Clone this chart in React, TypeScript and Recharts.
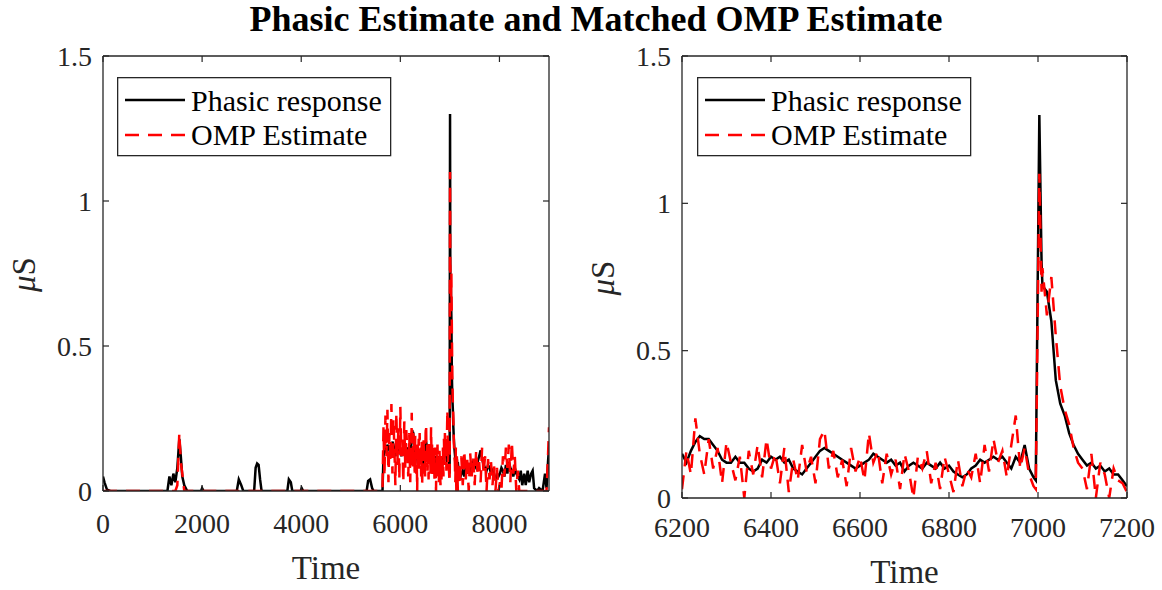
import { Legend, Line, LineChart, XAxis, YAxis } from "recharts";

const FONT = "'Liberation Serif', 'Times New Roman', Times, serif";
const AXIS_COLOR = "#262626";

// sample times (Time units)
const timeSec = [
  // quiet stretch with a few small responses
  0, 30, 80, 150, 1300, 1340, 1380, 1420, 1460, 1500, 1540, 1570, 1600, 1640,
  1700, 1980, 2000, 2030, 2700, 2740, 2790, 2830, 3050, 3080, 3110, 3140, 3170,
  3200, 3720, 3750, 3790, 3820, 3990, 4010, 4040, 5320, 5350, 5390, 5430, 5460,
  5640,
  // onset of the active period
  5660, 5680, 5700, 5720, 5740, 5760, 5780, 5800, 5820, 5840, 5860, 5880, 5900,
  5920, 5940, 5960, 5980, 6000, 6020, 6040, 6060, 6080, 6100, 6120, 6140, 6160,
  6180,
  // zoomed window 6200-7200
  6200, 6210, 6220, 6230, 6240, 6250, 6260, 6270, 6280, 6290, 6300, 6310, 6320,
  6330, 6340, 6350, 6360, 6370, 6380, 6390, 6400, 6410, 6420, 6430, 6440, 6450,
  6460, 6470, 6480, 6490, 6500, 6510, 6520, 6530, 6540, 6550, 6560, 6570, 6580,
  6590, 6600, 6610, 6620, 6630, 6640, 6650, 6660, 6670, 6680, 6690, 6700, 6710,
  6720, 6730, 6740, 6750, 6760, 6770, 6780, 6790, 6800, 6810, 6820, 6830, 6840,
  6850, 6860, 6870, 6880, 6890, 6900, 6910, 6920, 6930, 6940, 6950, 6960, 6970,
  6980, 6990, 6995, 7003, 7008, 7010, 7020, 7030, 7040, 7050, 7060, 7070, 7080,
  7090, 7100, 7110, 7120, 7130, 7140, 7150, 7160, 7170, 7180, 7190, 7200,
  // tail
  7230, 7260, 7290, 7320, 7350, 7380, 7410, 7440, 7470, 7500, 7530, 7560, 7590,
  7620, 7650, 7680, 7710, 7740, 7770, 7800, 7830, 7860, 7890, 7920, 7950, 7980,
  8010, 8040, 8070, 8100, 8130, 8160, 8190, 8220, 8250, 8280, 8310, 8340, 8370,
  8400, 8430, 8460, 8500, 8530, 8570, 8600, 8640, 8670, 8700, 8760, 8800, 8870,
  8920, 8950, 8980, 9000,
];

// phasic skin conductance response (µS)
const phasicResponse = [
  0.05, 0.03, 0.005, 0, 0, 0.05, 0.02, 0.06, 0.03, 0.08, 0.18, 0.12, 0.05, 0.02,
  0, 0, 0.01, 0, 0, 0.04, 0.02, 0, 0, 0.08, 0.095, 0.09, 0.04,
  0, 0, 0.04, 0.03, 0, 0, 0.01, 0, 0, 0.035, 0.04, 0.01, 0,
  0,
  0.12, 0.14, 0.15, 0.13, 0.16, 0.15, 0.14, 0.13, 0.15, 0.17, 0.16, 0.14, 0.12,
  0.13, 0.15, 0.16, 0.14, 0.13, 0.12, 0.14, 0.15, 0.13, 0.12, 0.14, 0.15, 0.13,
  0.14,
  0.15, 0.12, 0.16, 0.19, 0.21, 0.2, 0.2, 0.18, 0.16, 0.13, 0.12, 0.12, 0.14,
  0.12, 0.12, 0.1, 0.09, 0.1, 0.13, 0.12, 0.14, 0.13, 0.14, 0.12, 0.13, 0.1,
  0.09, 0.08, 0.1, 0.12, 0.14, 0.16, 0.17, 0.16, 0.15, 0.14, 0.13, 0.12, 0.11,
  0.1, 0.11, 0.12, 0.13, 0.15, 0.14, 0.13, 0.12, 0.13, 0.11, 0.12, 0.09, 0.11,
  0.12, 0.11, 0.1, 0.12, 0.11, 0.1, 0.12, 0.1, 0.11, 0.09, 0.08, 0.07, 0.08,
  0.1, 0.11, 0.13, 0.12, 0.13, 0.14, 0.13, 0.14, 0.12, 0.1, 0.14, 0.12, 0.18,
  0.1, 0.07, 0.06, 1.3, 0.8, 0.72, 0.7, 0.6, 0.4, 0.32, 0.28, 0.22, 0.18,
  0.15, 0.13, 0.11, 0.12, 0.1, 0.11, 0.09, 0.1, 0.08, 0.08, 0.06, 0.04,
  0.06, 0.07, 0.05, 0.08, 0.06, 0.09, 0.07, 0.08, 0.1, 0.09, 0.08, 0.1, 0.12,
  0.14, 0.11, 0.09, 0.08, 0.07, 0.09, 0.08, 0.06, 0.07, 0.05, 0.04, 0.06, 0.05,
  0.06, 0.08, 0.07, 0.05, 0.09, 0.06, 0.1, 0.08, 0.07, 0.05, 0.08, 0.06, 0.05,
  0.04, 0.07, 0.02, 0.06, 0.02, 0.07, 0.03, 0.06, 0.07, 0.01, 0, 0.01, 0,
  0.06, 0.01, 0.1, 0.15,
];

// matched OMP reconstruction (µS)
const ompEstimate = [
  0, 0, 0, 0, 0, 0, 0, 0, 0, 0.02, 0.2, 0.1, 0.06, 0,
  0, 0, 0, 0, 0, 0, 0, 0, 0, 0, 0, 0, 0,
  0, 0, 0, 0, 0, 0, 0, 0, 0, 0, 0, 0, 0,
  0,
  0.22, 0.05, 0.26, 0.12, 0.28, 0.03, 0.2, 0.1, 0.3, 0.06, 0.25, 0.15, 0.02,
  0.27, 0.09, 0.22, 0.04, 0.29, 0.12, 0.18, 0.03, 0.24, 0.08, 0.21, 0.14, 0.05,
  0.2,
  0.03, 0.16, 0.08, 0.27, 0.15, 0.08, 0.2, 0.1, 0.17, 0.05, 0.19, 0.12, 0.06,
  0.14, 0.0, 0.16, 0.08, 0.18, 0.07, 0.2, 0.1, 0.15, 0.05, 0.17, 0.02, 0.13,
  0.06, 0.18, 0.09, 0.14, 0.05, 0.2, 0.23, 0.1, 0.16, 0.07, 0.13, 0.04, 0.17,
  0.09, 0.14, 0.06, 0.22, 0.12, 0.16, 0.05, 0.15, 0.08, 0.13, 0.03, 0.15, 0.09,
  0.0, 0.14, 0.1, 0.16, 0.05, 0.12, 0.03, 0.14, 0.08, 0.02, 0.13, 0.04, 0.1,
  0.07, 0.15, 0.05, 0.18, 0.09, 0.2, 0.12, 0.16, 0.07, 0.18, 0.28, 0.1, 0.17,
  0.08, 0.04, 0.03, 1.1, 0.7, 0.78, 0.62, 0.75, 0.55, 0.38, 0.3, 0.25, 0.17,
  0.12, 0.1, 0.03, 0.15, 0.0, 0.12, 0.08, 0.0, 0.1, 0.06, 0.05, 0.02,
  0.12, 0.02, 0.14, 0.04, 0.11, 0.0, 0.13, 0.05, 0.12, 0.02, 0.14, 0.06, 0.1,
  0.03, 0.15, 0.06, 0.12, 0.0, 0.11, 0.04, 0.1, 0.02, 0.09, 0.0, 0.08, 0.0,
  0.03, 0.0, 0.12, 0.05, 0.15, 0.08, 0.16, 0.03, 0.17, 0.06, 0.12, 0.0, 0.07,
  0.0, 0, 0, 0, 0, 0, 0, 0, 0, 0, 0, 0, 0,
  0, 0, 0.12, 0.22,
];

const fullTicks = [0, 2000, 4000, 6000, 8000];
const zoomTicks = [6200, 6400, 6600, 6800, 7000, 7200];
const valueTicks = [0, 0.5, 1, 1.5];

const legendNames = ["Phasic response", "OMP Estimate"];
const legendColors = ["#000000", "#ff0000"];
const legendDashes = ["none", "14 9"];

const rows = timeSec.map((t, i) => ({
  time: t,
  phasic: phasicResponse[i],
  omp: ompEstimate[i],
}));
const zoomRows = rows.filter((r) => r.time >= 6200 && r.time <= 7200);

const TICK_LEN = 6;

// MATLAB-style tick: short mark pointing into the plot box, optional label outside
function BoxTick(props: any) {
  const { x, y, payload, side, labelGap } = props;
  const label = labelGap ? String(payload.value) : "";
  if (side === "bottom") {
    return (
      <g>
        <line x1={x} x2={x} y1={y} y2={y - TICK_LEN} stroke={AXIS_COLOR} strokeWidth={1.2} />
        <text x={x} y={y + labelGap} textAnchor="middle" fontFamily={FONT} fontSize={28} fill={AXIS_COLOR}>
          {label}
        </text>
      </g>
    );
  }
  if (side === "left") {
    return (
      <g>
        <line x1={x} x2={x + TICK_LEN} y1={y} y2={y} stroke={AXIS_COLOR} strokeWidth={1.2} />
        <text x={x - labelGap} y={y} dy="0.35em" textAnchor="end" fontFamily={FONT} fontSize={28} fill={AXIS_COLOR}>
          {label}
        </text>
      </g>
    );
  }
  if (side === "top") {
    return <line x1={x} x2={x} y1={y} y2={y + TICK_LEN} stroke={AXIS_COLOR} strokeWidth={1.2} />;
  }
  return <line x1={x} x2={x - TICK_LEN} y1={y} y2={y} stroke={AXIS_COLOR} strokeWidth={1.2} />;
}

function LegendBox() {
  return (
    <svg width={275} height={80} style={{ display: "block" }}>
      <rect x={0.65} y={0.65} width={273} height={78} fill="#fff" stroke={AXIS_COLOR} strokeWidth={1.3} />
      {legendNames.map((name, i) => (
        <g key={name}>
          <line
            x1={8}
            x2={68}
            y1={23 + i * 35}
            y2={23 + i * 35}
            stroke={legendColors[i]}
            strokeWidth={2.5}
            strokeDasharray={legendDashes[i]}
          />
          <text x={74} y={34 + i * 34} fontFamily={FONT} fontSize={30} fill="#000">
            {name}
          </text>
        </g>
      ))}
    </svg>
  );
}

function Panel({
  data,
  domain,
  ticks,
  width,
  axisWidth,
  marginRight,
  axisHeight,
  tickGap,
  timeOffset,
}: {
  data: typeof rows;
  domain: [number, number];
  ticks: number[];
  width: number;
  axisWidth: number;
  marginRight: number;
  axisHeight: number;
  tickGap: number;
  timeOffset: number;
}) {
  const frame = { stroke: AXIS_COLOR, strokeWidth: 1.3 };
  return (
    <LineChart
      width={width}
      height={590}
      data={data}
      margin={{ top: 55, right: marginRight, bottom: 0, left: 0 }}
    >
      <XAxis
        dataKey="time"
        type="number"
        domain={domain}
        ticks={ticks}
        interval={0}
        allowDataOverflow
        height={axisHeight}
        tickSize={0}
        tickMargin={0}
        tickLine={false}
        axisLine={frame}
        tick={(p: any) => <BoxTick {...p} side="bottom" labelGap={tickGap} />}
        label={(p: any) => (
          <text
            x={p.viewBox.x + p.viewBox.width / 2}
            y={p.viewBox.y + timeOffset}
            textAnchor="middle"
            fontFamily={FONT}
            fontSize={33}
            fill={AXIS_COLOR}
          >
            Time
          </text>
        )}
      />
      {/* top and right axes only close the box and carry inward ticks */}
      <XAxis
        xAxisId="top"
        orientation="top"
        dataKey="time"
        type="number"
        domain={domain}
        ticks={ticks}
        interval={0}
        allowDataOverflow
        height={1}
        tickSize={0}
        tickMargin={0}
        tickLine={false}
        axisLine={frame}
        tick={(p: any) => <BoxTick {...p} side="top" labelGap={0} />}
      />
      <YAxis
        type="number"
        domain={[0, 1.5]}
        ticks={valueTicks}
        interval={0}
        allowDataOverflow
        width={axisWidth}
        tickSize={0}
        tickMargin={0}
        tickLine={false}
        axisLine={frame}
        tick={(p: any) => <BoxTick {...p} side="left" labelGap={11} />}
        label={(p: any) => {
          const cx = p.viewBox.x + p.viewBox.width - 79;
          const cy = p.viewBox.y + p.viewBox.height / 2 + 1;
          return (
            <text
              x={cx}
              y={cy}
              transform={`rotate(-90 ${cx} ${cy})`}
              textAnchor="middle"
              dominantBaseline="central"
              fontFamily={FONT}
              fontSize={33}
              fill={AXIS_COLOR}
            >
              <tspan fontStyle="italic">μ</tspan>S
            </text>
          );
        }}
      />
      <YAxis
        yAxisId="right"
        orientation="right"
        type="number"
        domain={[0, 1.5]}
        ticks={valueTicks}
        interval={0}
        allowDataOverflow
        width={1}
        tickSize={0}
        tickMargin={0}
        tickLine={false}
        axisLine={frame}
        tick={(p: any) => <BoxTick {...p} side="right" labelGap={0} />}
      />
      {/* same domains on both axis pairs, so the phasic trace can sit on the top/right pair */}
      <Line
        xAxisId="top"
        yAxisId="right"
        type="linear"
        dataKey="phasic"
        stroke="#000000"
        strokeWidth={2.5}
        dot={false}
        isAnimationActive={false}
      />
      <Line
        type="linear"
        dataKey="omp"
        stroke="#ff0000"
        strokeWidth={2.5}
        strokeDasharray="14 9"
        dot={false}
        isAnimationActive={false}
      />
      <Legend
        layout="horizontal"
        verticalAlign="middle"
        align="center"
        wrapperStyle={{ left: 117, top: 77, width: 275, height: 80 }}
        content={() => <LegendBox />}
      />
    </LineChart>
  );
}

export default function App() {
  return (
    <div
      style={{
        position: "absolute",
        left: 0,
        top: 0,
        width: 1162,
        height: 590,
        background: "#fff",
        overflow: "hidden",
      }}
    >
      <div style={{ position: "absolute", left: 0, top: 0 }}>
        <Panel
          data={rows}
          domain={[0, 9000]}
          ticks={fullTicks}
          width={580}
          axisWidth={103}
          marginRight={30}
          axisHeight={99}
          tickGap={42}
          timeOffset={88}
        />
      </div>
      <div style={{ position: "absolute", left: 580, top: 0 }}>
        <Panel
          data={zoomRows}
          domain={[6200, 7200]}
          ticks={zoomTicks}
          width={582}
          axisWidth={102}
          marginRight={34}
          axisHeight={92}
          tickGap={39}
          timeOffset={85}
        />
      </div>
      <div
        style={{
          position: "absolute",
          left: 0,
          top: -1,
          width: 1192,
          textAlign: "center",
          fontFamily: FONT,
          fontWeight: "bold",
          fontSize: 36,
          lineHeight: "40px",
          color: "#000",
        }}
      >
        Phasic Estimate and Matched OMP Estimate
      </div>
    </div>
  );
}
